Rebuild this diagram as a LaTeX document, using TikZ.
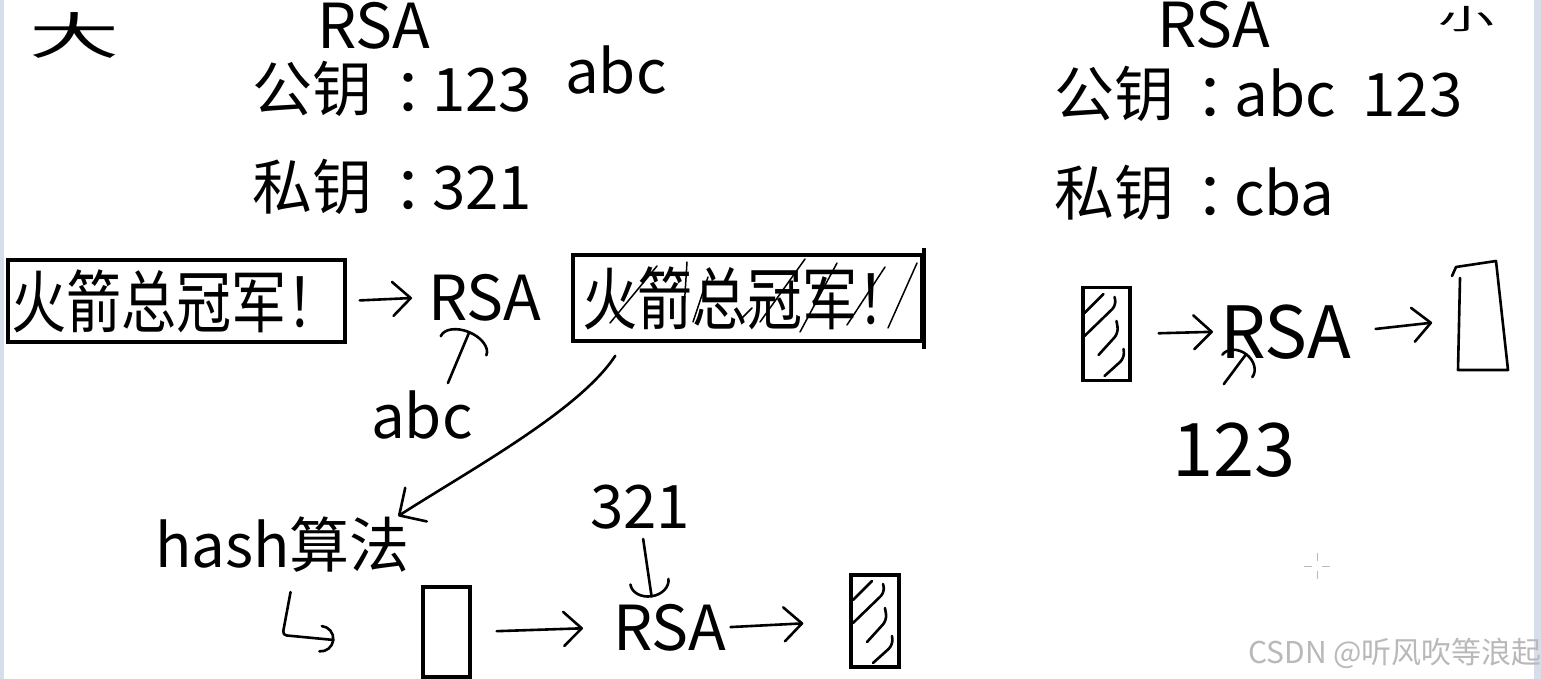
\documentclass[tikz,border=0pt]{standalone}
\usepackage{fontspec}
\setmainfont{Noto Sans CJK SC}
\newfontfamily\cjknarrow[FakeStretch=0.81]{Noto Sans CJK SC}
\usetikzlibrary{positioning,arrows.meta}
\definecolor{edgeblue}{RGB}{214,222,236}
\definecolor{markgray}{RGB}{185,185,185}
\newcommand\fsz[1]{\fontsize{#1}{#1}\selectfont}
\newcommand\fwcolon{\makebox[1em][l]{\hspace{0.36em}：}}
\newcommand\hatchin[1]{%
  \begin{scope}[shift={(#1.center)}]
    \draw[pen] (-3,-40) -- (-22,-21);
    \draw[pen,rounded corners=6pt] (8,-37) -- (10,-29) -- (-22,2);
    \draw[pen,rounded corners=6pt] (10,-13) -- (12,-1) -- (-8,21);
    \draw[pen,rounded corners=6pt] (17,15) -- (18,24) -- (-2,42);
  \end{scope}}

\tikzset{
  txt/.style={anchor=base west, inner sep=0pt, font=\fsz{60}},
  bigtxt/.style={txt, font=\fsz{62}},
  msgbox/.style={draw, line width=3.5pt, inner sep=0pt, font=\cjknarrow\fsz{68}},
  blockbox/.style={draw, line width=3.5pt, inner sep=0pt},
  pen/.style={line width=2.6pt, line cap=round, line join=round},
  scribble/.style={line width=1.5pt, line cap=round},
  handarrow/.style={pen, -{Straight Barb[length=18pt,width=34pt,round]}},
  caretarrow/.style={pen, -{Arc Barb[length=16pt,width=#1,round]}},
}

\begin{document}
\begin{tikzpicture}[x=1pt,y=-1pt]
  \useasboundingbox (0,0) rectangle (1541,679);
  \fill[white] (0,0) rectangle (1541,679);
  \fill[edgeblue] (0,0) rectangle (4,679);
  \fill[edgeblue] (1534,0) rectangle (1541,679);

  % linke Seite: Signatur
  \node[anchor=base, inner sep=0pt, font=\fsz{50}, xscale=1.8, transform shape] (big) at (74,55) {大};
  \node[bigtxt] (rsaL) at (317,49) {RSA};
  \node[txt] (pubL) at (252,112) {公钥\fwcolon 123};
  \node[txt] (abcTop) at (565,94) {abc};
  \node[txt] (privL) at (252,209) {私钥\fwcolon 321};

  \node[msgbox, minimum width=337pt, minimum height=82pt] (box1) at (176.5,301) {火箭总冠军！};
  \node[bigtxt] (rsaA) at (428,320) {RSA};
  \node[msgbox, minimum width=349pt, minimum height=86pt] (box2) at (747.5,298) {火箭总冠军！};
  \draw[line width=3.5pt] ([yshift=5pt]box2.north east) -- ([yshift=-6pt]box2.south east);
  \foreach \xa/\ya/\xb/\yb in {657/266/610/323, 687/262/683/326, 708/277/693/322,
                               742/318/752/308, 805/259/760/322, 837/263/800/332,
                               885/267/847/325, 917/263/888/328}{
    \draw[scribble] (\xa,\ya) -- (\xb,\yb);
  }
  \node[txt] (abcA) at (371,438) {abc};

  \draw[handarrow, shorten <=13pt, shorten >=16pt] (box1.east) -- (rsaA.west);
  \draw[caretarrow=52pt] ([xshift=26pt,yshift=7pt]abcA.north) -- ([xshift=-15pt,yshift=-10pt]rsaA.south);

  % hash und zweites RSA
  \node[txt] (hash) at (155,567) {hash算法};
  \draw[pen, -{Straight Barb[length=20pt,width=40pt,round]}]
    ([xshift=44pt,yshift=-13pt]box2.south west) .. controls (580,410) and (470,470) .. ([xshift=-12pt]hash.north east);
  \draw[pen, rounded corners=4pt, -{Arc Barb[length=14pt,width=28pt,round]}]
    ([xshift=8pt,yshift=-20pt]hash.south) -- ++(-8,43) -- ++(52,5);

  \node[blockbox, minimum width=47pt, minimum height=90pt] (plainA) at (446.5,632) {};
  \node[txt] (key321) at (590,528) {321};
  \node[bigtxt] (rsaB) at (613,650) {RSA};
  \node[blockbox, minimum width=48pt, minimum height=92pt] (hatchA) at (875,621) {};
  \hatchin{hatchA}

  \draw[handarrow, shorten <=25pt, shorten >=30pt] (plainA.east) -- (rsaB.west);
  \draw[caretarrow=41pt] ([xshift=3pt,yshift=-10pt]key321.south) -- ([xshift=-18pt,yshift=6pt]rsaB.north);
  \draw[handarrow, shorten <=4pt, shorten >=46pt] (rsaB.east) -- (hatchA.west);

  % rechte Seite: Pruefung
  \node[bigtxt] (rsaR) at (1157,48) {RSA};
  \node[anchor=base, inner sep=0pt, font=\fsz{28}, xscale=2, transform shape] (small) at (1466,30) {小};
  \node[txt] (pubR) at (1054,117) {公钥\fwcolon abc~~123};
  \node[txt] (privR) at (1054,215) {私钥\fwcolon cba};

  \node[blockbox, minimum width=47pt, minimum height=93pt] (hatchB) at (1106.5,334) {};
  \hatchin{hatchB}
  \node[txt, font=\fsz{72}] (rsaC) at (1220,358) {RSA};
  \node[txt, font=\fsz{74}] (key123) at (1172,476) {123};
  \draw[pen] (1452,276) -- (1456,267) -- (1496,261) -- (1508,370) -- (1458,370) -- (1460,278);
  \coordinate (plainB) at (1456,320);

  \draw[handarrow, shorten <=27pt, shorten >=7pt] (hatchB.east) -- (rsaC.west);
  \draw[caretarrow=40pt] ([xshift=-10pt,yshift=38pt]key123.north) -- ([xshift=-39pt,yshift=6pt]rsaC.south);
  \draw[handarrow, shorten <=24pt, shorten >=24pt] (rsaC.east) -- (plainB);

  % Rest
  \coordinate (cross) at (1317,566);
  \draw[markgray, line width=1pt] ([yshift=13pt]cross) -- ([yshift=5pt]cross)
    ([yshift=-5pt]cross) -- ([yshift=-13pt]cross)
    ([xshift=-13pt]cross) -- ([xshift=-5pt]cross)
    ([xshift=5pt]cross) -- ([xshift=13pt]cross);
  \node[txt, font=\fsz{30}, text=markgray] (mark) at (1248,663) {CSDN @听风吹等浪起};
\end{tikzpicture}
\end{document}
